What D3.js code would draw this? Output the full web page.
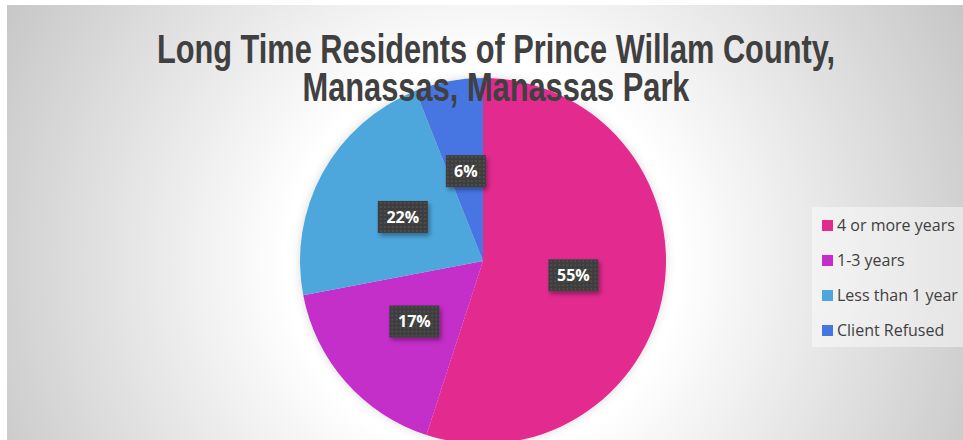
<!DOCTYPE html>
<html>
<head>
<meta charset="utf-8">
<script src="https://cdn.jsdelivr.net/npm/d3@7"></script>
<style>
  body { margin: 0; background: #fff; }
  svg { display: block; }
</style>
</head>
<body>
<div id="chart"></div>
<script>
const width = 963;
const height = 440;

const titleLines = ['Long Time Residents of Prince Willam County,', 'Manassas, Manassas Park'];
const titleWidths = [678, 387];
const categories = ['4 or more years', '1-3 years', 'Less than 1 year', 'Client Refused'];
const values = [55, 17, 22, 6];
const colors = ['#e32b8f', '#c42dc9', '#4ea7dc', '#4674e1'];

const cx = 483, cy = 261, radius = 183;

const svg = d3.select('#chart')
    .append('svg')
    .attr('width', width)
    .attr('height', height);

const defs = svg.append('defs');

const bg = defs.append('radialGradient')
    .attr('id', 'bg')
    .attr('gradientUnits', 'userSpaceOnUse')
    .attr('cx', cx).attr('cy', cy).attr('r', 560);
bg.append('stop').attr('offset', '0.35').attr('stop-color', '#ffffff');
bg.append('stop').attr('offset', '1').attr('stop-color', '#c4c4c4');

const pat = defs.append('pattern')
    .attr('id', 'dots')
    .attr('patternUnits', 'userSpaceOnUse')
    .attr('width', 4).attr('height', 4);
pat.append('rect').attr('width', 4).attr('height', 4).attr('fill', '#3d3d3d');
pat.append('rect').attr('x', 1).attr('y', 1).attr('width', 2).attr('height', 2).attr('fill', '#4e4e4e');

const shadow = defs.append('filter').attr('id', 'shadow')
    .attr('x', '-30%').attr('y', '-30%').attr('width', '160%').attr('height', '160%');
shadow.append('feDropShadow')
    .attr('dx', 2).attr('dy', 3).attr('stdDeviation', 2)
    .attr('flood-color', '#000').attr('flood-opacity', 0.35);

const glow = defs.append('filter').attr('id', 'glow')
    .attr('x', '-20%').attr('y', '-20%').attr('width', '140%').attr('height', '140%');
glow.append('feDropShadow')
    .attr('dx', 0).attr('dy', 0).attr('stdDeviation', 5)
    .attr('flood-color', '#000').attr('flood-opacity', 0.15);

svg.append('rect')
    .attr('x', 7).attr('y', 5)
    .attr('width', width - 7).attr('height', height - 5)
    .attr('fill', 'url(#bg)');

const pie = d3.pie().sort(null).value(d => d)(values);
const arc = d3.arc().innerRadius(0).outerRadius(radius);
const labelArc = d3.arc().innerRadius(radius * 0.5).outerRadius(radius * 0.5);

const g = svg.append('g').attr('transform', `translate(${cx}, ${cy})`);

g.append('g').attr('filter', 'url(#glow)')
    .selectAll('path')
    .data(pie)
    .enter()
    .append('path')
    .attr('d', arc)
    .attr('fill', (d, i) => colors[i]);

const labels = g.selectAll('.label')
    .data(pie)
    .enter()
    .append('g')
    .attr('class', 'label')
    .attr('transform', d => `translate(${labelArc.centroid(d)})`);

labels.append('rect')
    .attr('x', d => d.data >= 10 ? -25 : -20)
    .attr('y', -16)
    .attr('width', d => d.data >= 10 ? 50 : 40)
    .attr('height', 32)
    .attr('fill', 'url(#dots)')
    .attr('filter', 'url(#shadow)');

labels.append('text')
    .attr('text-anchor', 'middle')
    .attr('dy', '0.35em')
    .style('font-family', '"Open Sans", sans-serif')
    .style('font-weight', 'bold')
    .style('font-size', '16px')
    .style('fill', '#ffffff')
    .text(d => d.data + '%');

svg.selectAll('.title')
    .data(titleLines)
    .enter()
    .append('text')
    .attr('class', 'title')
    .attr('x', 496)
    .attr('y', (d, i) => 63 + i * 38)
    .attr('text-anchor', 'middle')
    .attr('textLength', (d, i) => titleWidths[i])
    .attr('lengthAdjust', 'spacingAndGlyphs')
    .style('font-family', '"Liberation Sans", Arial, sans-serif')
    .style('font-weight', 'bold')
    .style('font-size', '40px')
    .style('fill', '#404040')
    .text(d => d);

const legend = svg.append('g').attr('id', 'legend');

legend.append('rect')
    .attr('x', 812).attr('y', 207)
    .attr('width', 151).attr('height', 140)
    .attr('fill', '#ffffff').attr('fill-opacity', 0.45);

const items = legend.selectAll('.item')
    .data(categories)
    .enter()
    .append('g')
    .attr('class', 'item')
    .attr('transform', (d, i) => `translate(822, ${225 + i * 35})`);

items.append('rect')
    .attr('x', 0).attr('y', -5)
    .attr('width', 11).attr('height', 11)
    .attr('fill', (d, i) => colors[i]);

items.append('text')
    .attr('x', 15)
    .attr('dy', '0.35em')
    .style('font-family', '"Open Sans", sans-serif')
    .style('font-size', '16px')
    .style('fill', '#404040')
    .text(d => d);
</script>
</body>
</html>
